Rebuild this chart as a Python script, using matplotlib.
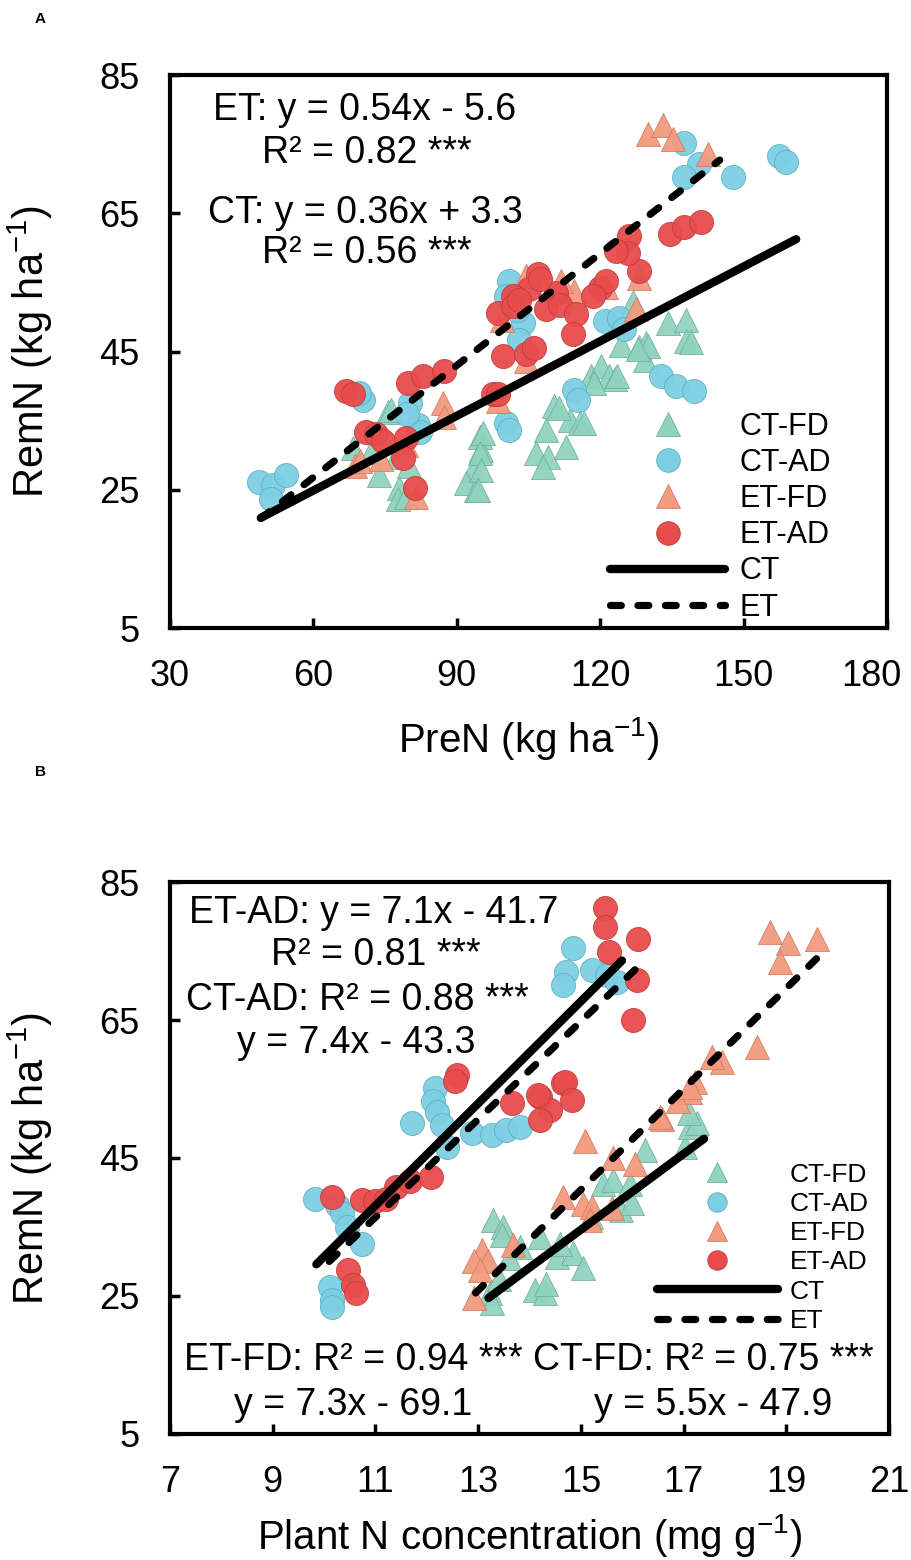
import numpy as np
import matplotlib
matplotlib.use("Agg")
from matplotlib import pyplot as plt
from matplotlib.lines import Line2D
from matplotlib.transforms import ScaledTranslation

plt.rcParams['font.family'] = ['Liberation Sans', 'DejaVu Sans']
plt.rcParams['mathtext.default'] = 'regular'

# ---------------- panel A data (PreN vs RemN) ----------------
a_ctfd_x = [75.6, 68.3, 73.8, 78.0, 77.7, 79.3, 77.3, 94.8, 95.0, 93.3, 91.9, 94.0,
            95.4, 94.8, 95.0, 94.4, 110.4, 108.6, 106.5, 109.0, 108.0, 112.8, 113.6,
            115.7, 118.0, 120.2, 121.9, 123.0, 124.3, 128.2, 129.6, 129.3, 126.8,
            134.1, 137.9, 137.9, 76.2, 111.4, 116.7, 118.8, 123.5, 130.0, 139.0,
            127.8, 72.0, 80.0]
a_ctfd_y = [36.2, 31.1, 27.2, 25.3, 23.6, 24.0, 29.8, 32.7, 30.8, 27.9, 26.0, 25.0,
            33.2, 30.3, 27.9, 25.0, 37.1, 33.7, 30.3, 29.8, 28.3, 31.2, 35.1,
            34.7, 41.4, 42.9, 41.4, 41.0, 46.0, 45.6, 46.3, 43.8, 52.1,
            49.2, 49.6, 46.5, 36.6, 36.9, 34.7, 40.5, 41.4, 45.8, 46.4,
            45.3, 30.5, 28.5]

a_ctad_x = [48.7, 51.5, 54.3, 51.1, 70.4, 69.5, 80.3, 81.9, 82.3, 79.5, 101.0, 100.3,
            103.8, 103.1, 102.5, 120.9, 124.0, 125.0, 132.7, 135.9, 139.7, 114.6,
            115.3, 100.3, 101.0, 137.6, 140.7, 137.6, 147.7, 157.5, 158.8]
a_ctad_y = [26.2, 25.7, 27.1, 23.6, 38.0, 39.0, 37.6, 34.4, 33.4, 36.0, 55.2, 53.0,
            49.2, 46.7, 51.0, 49.4, 49.9, 48.2, 41.4, 40.0, 39.3, 39.5,
            38.0, 34.7, 33.7, 75.2, 72.1, 70.2, 70.2, 73.3, 72.4]

a_etfd_x = [87.1, 87.4, 68.6, 69.7, 74.1, 81.4, 114.6, 111.8, 127.4, 104.5, 129.9,
            133.1, 135.2, 142.5, 99.5, 104.4, 79.3, 98.6, 121.2, 128.2]
a_etfd_y = [37.6, 35.6, 28.4, 29.1, 29.4, 24.0, 53.7, 55.2, 51.1, 55.9, 76.4,
            77.7, 75.7, 73.6, 49.5, 43.7, 31.5, 37.9, 54.4, 55.7]

a_etad_x = [66.9, 68.3, 79.8, 82.9, 87.4, 71.0, 73.1, 74.5, 79.3, 78.7, 81.2, 97.5,
            106.9, 105.2, 101.7, 98.6, 101.7, 108.6, 110.7, 111.5, 114.9, 114.3,
            99.6, 104.4, 106.2, 119.9, 121.2, 118.4, 128.2, 98.6, 126.1, 125.8,
            123.3, 134.5, 137.6, 141.0, 103.0, 107.5]
a_etad_y = [39.3, 38.8, 40.5, 41.4, 42.2, 33.3, 33.0, 32.0, 32.5, 29.6, 25.3, 38.8,
            56.2, 54.0, 53.0, 50.6, 51.6, 51.1, 53.5, 51.8, 50.4, 47.5,
            44.3, 44.6, 45.5, 54.2, 55.2, 53.0, 56.6, 38.8, 61.7, 59.3,
            59.5, 62.0, 63.0, 63.7, 52.5, 55.5]

# regression lines: slope, intercept, x range
a_ct_fit = (0.36, 3.3, 49, 161)
a_et_fit = (0.54, -5.6, 49, 145)

# ---------------- panel B data (plant N conc. vs RemN) ----------------
b_ctfd_x = [13.29, 13.49, 13.46, 13.23, 13.26, 14.2, 13.82, 14.53, 14.85, 15.04, 14.11,
            14.3, 14.33, 15.44, 15.63, 15.96, 15.79, 16.25, 17.03, 17.13, 17.26, 17.1,
            13.4, 15.2, 16.0, 14.6, 13.6]
b_ctfd_y = [36.0, 35.0, 33.8, 25.4, 24.0, 33.6, 32.1, 30.7, 31.2, 29.0, 25.9,
            25.4, 26.8, 41.3, 41.8, 41.3, 37.5, 46.2, 46.6, 49.5, 50.0, 51.5,
            27.5, 36.5, 38.5, 32.6, 30.5]

b_ctad_x = [12.16, 12.13, 12.19, 11.71, 12.29, 12.39, 12.88, 13.26, 13.55, 13.82, 9.82,
            10.25, 10.34, 10.44, 10.73, 10.12, 10.15, 10.15, 14.85, 14.72, 14.66,
            15.21, 15.5, 15.7]
b_ctad_y = [55.1, 53.2, 51.7, 50.0, 49.8, 46.6, 48.6, 48.3, 49.1, 49.5, 39.1,
            38.2, 37.0, 35.0, 32.6, 26.3, 24.4, 23.4, 75.4, 72.0, 70.1,
            72.2, 71.5, 70.5]

b_etfd_x = [18.68, 19.04, 18.88, 19.59, 18.42, 17.74, 17.55, 17.22, 17.13, 16.9, 16.57,
            15.08, 15.63, 16.06, 14.66, 15.05, 15.21, 15.18, 15.6, 13.68, 13.07,
            12.91, 13.2, 13.04, 12.91, 16.54, 17.13]
b_etfd_y = [77.8, 76.1, 73.4, 76.8, 61.1, 58.9, 59.7, 56.0, 54.6, 53.2, 50.7,
            47.4, 45.0, 44.2, 39.4, 38.4, 37.9, 36.0, 37.7, 32.4, 31.7,
            30.0, 30.0, 28.8, 24.7, 51.0, 55.3]

b_etad_x = [12.58, 12.55, 10.15, 10.73, 10.99, 11.41, 11.67, 12.09, 10.47, 10.57, 10.63,
            13.65, 14.2, 14.4, 14.2, 14.65, 15.47, 15.47, 15.54, 16.12, 16.09, 16.02,
            14.69, 14.82, 14.17, 11.2]
b_etad_y = [57.0, 56.1, 39.4, 38.9, 38.7, 40.8, 41.6, 42.3, 28.8, 26.6, 25.4,
            52.9, 53.9, 51.9, 50.5, 55.8, 81.2, 78.5, 74.9, 76.8, 70.8, 65.0,
            56.0, 53.4, 54.1, 39.0]

b_ctad_fit = (7.4, -43.3, 9.85, 15.8)
b_etad_fit = (7.1, -41.7, 10.1, 16.15)
b_ctfd_fit = (5.5, -47.9, 13.2, 17.4)
b_etfd_fit = (7.3, -69.1, 12.95, 19.65)

yticks = [5, 25, 45, 65, 85]
a_xticks = [30, 60, 90, 120, 150, 180]
b_xticks = [7, 9, 11, 13, 15, 17, 19, 21]

groups = ['CT-FD', 'CT-AD', 'ET-FD', 'ET-AD']
face = {'CT-FD': '#8fd3bf', 'CT-AD': '#7ccfe2', 'ET-FD': '#f39a7f', 'ET-AD': '#e84c4c'}
edge = {'CT-FD': '#6fb09c', 'CT-AD': '#5cafc2', 'ET-FD': '#d07c62', 'ET-AD': '#c13a3a'}
mark = {'CT-FD': '^', 'CT-AD': 'o', 'ET-FD': '^', 'ET-AD': 'o'}
DASH = (0, (1.5, 2.3))


def fit_line(ax, fit, style):
    slope, icpt, x0, x1 = fit
    xs = np.array([x0, x1])
    if style == 'solid':
        ax.plot(xs, slope * xs + icpt, color='black', lw=6,
                solid_capstyle='round', zorder=5)
    else:
        ax.plot(xs, slope * xs + icpt, color='black', lw=5.2,
                linestyle=DASH, dash_capstyle='round', zorder=5)


def style_axes(ax, xticks, xlim):
    ax.set_xlim(*xlim)
    ax.set_ylim(5, 85)
    ax.set_xticks(xticks)
    ax.set_yticks(yticks)
    for s in ax.spines.values():
        s.set_linewidth(3)
    ax.tick_params(direction='in', length=7, width=2.5, labelsize=26, pad=22)
    ax.set_ylabel('RemN (kg ha$^{-1}$)', fontsize=30)
    ax.yaxis.set_label_coords(-0.16, 0.5)


def make_legend(ax, anchor, fs, ms, hl):
    handles = []
    for g in groups:
        handles.append(Line2D([], [], linestyle='none', marker=mark[g], markersize=ms,
                              markerfacecolor=face[g], markeredgecolor=edge[g],
                              markeredgewidth=0.6, label=g))
    handles.append(Line2D([], [], color='black', lw=6, solid_capstyle='round', label='CT'))
    handles.append(Line2D([], [], color='black', lw=5.2, linestyle=DASH,
                          dash_capstyle='round', label='ET'))
    ax.legend(handles=handles, loc='lower left', bbox_to_anchor=anchor, frameon=False,
              fontsize=fs, handlelength=hl, handletextpad=0.45, labelspacing=0.2,
              borderpad=0, borderaxespad=0)


fig = plt.figure(figsize=(9.11, 15.6), dpi=100)
axA = fig.add_axes([0.1866, 0.5974, 0.7871, 0.3545])
axB = fig.add_axes([0.1866, 0.0808, 0.7893, 0.3538])

# panel A
dataA = {'CT-FD': (a_ctfd_x, a_ctfd_y), 'CT-AD': (a_ctad_x, a_ctad_y),
         'ET-FD': (a_etfd_x, a_etfd_y), 'ET-AD': (a_etad_x, a_etad_y)}
for g in groups:
    x, y = dataA[g]
    axA.scatter(x, y, s=300, marker=mark[g], c=face[g], edgecolors=edge[g],
                linewidths=0.6, alpha=0.95, zorder=3)
fit_line(axA, a_ct_fit, 'solid')
fit_line(axA, a_et_fit, 'dashed')
style_axes(axA, a_xticks, (30, 180))
axA.set_xlabel('PreN (kg ha$^{-1}$)', fontsize=29)
axA.xaxis.set_label_coords(0.5, -0.157)
eq = dict(transform=axA.transAxes, ha='center', va='center', fontsize=27)
axA.text(0.272, 0.937, 'ET: y = 0.54x - 5.6', **eq)
axA.text(0.275, 0.859, 'R² = 0.82 ***', **eq)
axA.text(0.272, 0.750, 'CT: y = 0.36x + 3.3', **eq)
axA.text(0.275, 0.678, 'R² = 0.56 ***', **eq)
make_legend(axA, (0.614, 0.01), 22, 17, 3.77)

# panel B
dataB = {'CT-FD': (b_ctfd_x, b_ctfd_y), 'CT-AD': (b_ctad_x, b_ctad_y),
         'ET-FD': (b_etfd_x, b_etfd_y), 'ET-AD': (b_etad_x, b_etad_y)}
for g in groups:
    x, y = dataB[g]
    axB.scatter(x, y, s=300, marker=mark[g], c=face[g], edgecolors=edge[g],
                linewidths=0.6, alpha=0.95, zorder=3)
fit_line(axB, b_ctad_fit, 'solid')
fit_line(axB, b_etad_fit, 'dashed')
fit_line(axB, b_ctfd_fit, 'solid')
fit_line(axB, b_etfd_fit, 'dashed')
style_axes(axB, b_xticks, (7, 21))
axB.set_xlabel('Plant N concentration (mg g$^{-1}$)', fontsize=29)
axB.xaxis.set_label_coords(0.5, -0.142)
eq['transform'] = axB.transAxes
axB.text(0.283, 0.944, 'ET-AD: y = 7.1x - 41.7', **eq)
axB.text(0.286, 0.868, 'R² = 0.81 ***', **eq)
axB.text(0.260, 0.786, 'CT-AD: R² = 0.88 ***', **eq)
axB.text(0.259, 0.708, 'y = 7.4x - 43.3', **eq)
axB.text(0.499, 0.134, 'ET-FD: R² = 0.94 *** CT-FD: R² = 0.75 ***', **eq)
axB.text(0.255, 0.053, 'y = 7.3x - 69.1', **eq)
axB.text(0.755, 0.053, 'y = 5.5x - 47.9', **eq)
make_legend(axB, (0.677, 0.183), 19, 14, 4.6)

fig.text(0.044, 0.988, 'A', fontsize=11, fontweight='bold', ha='center', va='center')
fig.text(0.044, 0.505, 'B', fontsize=11, fontweight='bold', ha='center', va='center')

# pull the last x label of panel A inside the figure, as in the original
fig.canvas.draw()
last = axA.get_xticklabels()[-1]
last.set_transform(last.get_transform() + ScaledTranslation(-0.16, 0, fig.dpi_scale_trans))

fig.savefig('out.png', dpi=100)
